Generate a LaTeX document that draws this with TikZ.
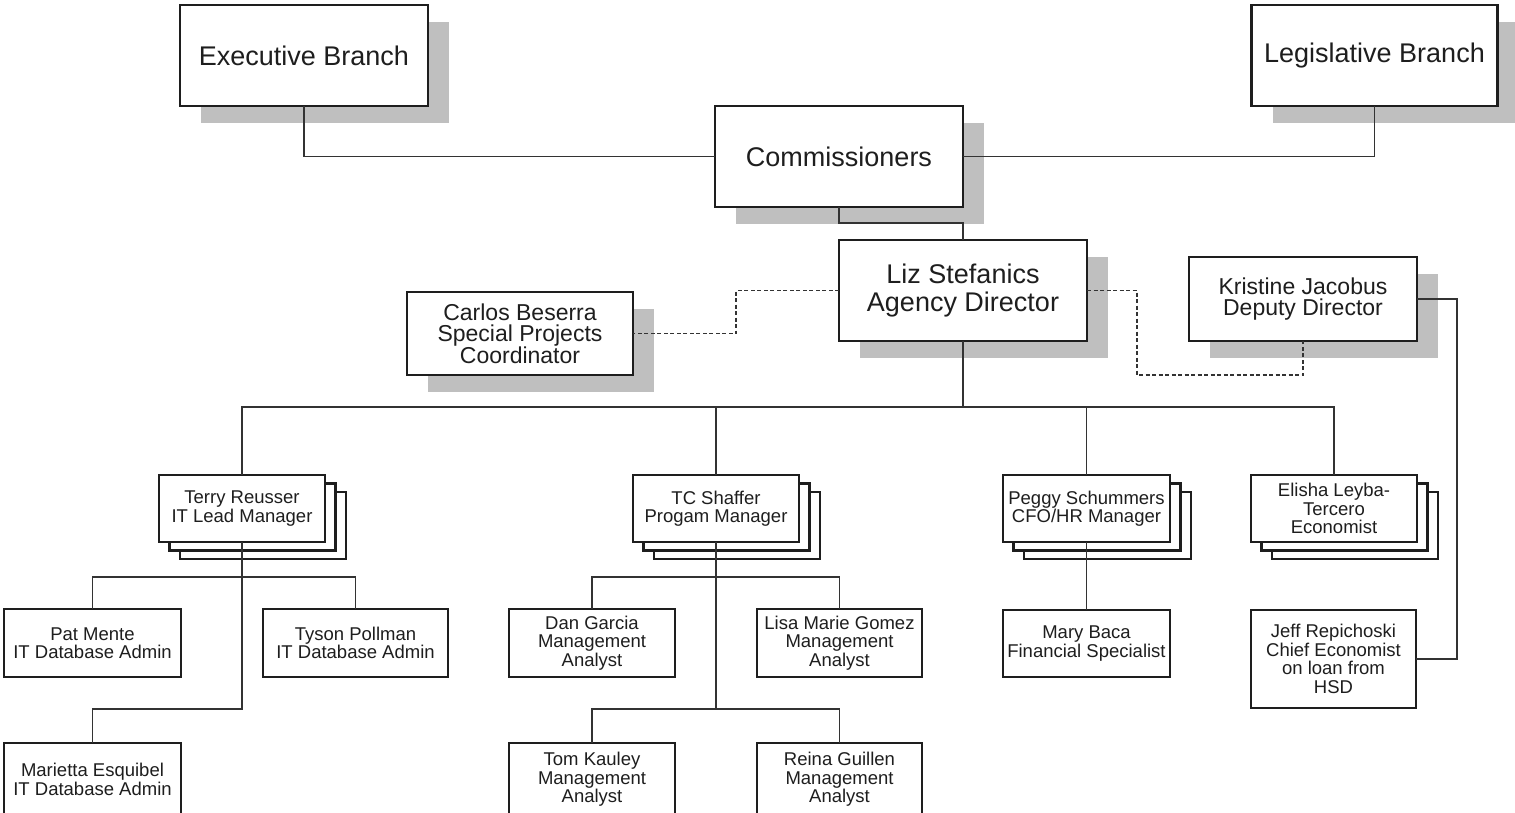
\documentclass[tikz,border=0pt]{standalone}
\usepackage{fontspec}
\setmainfont{Liberation Sans}
\usetikzlibrary{calc,backgrounds}
\definecolor{shadowc}{HTML}{BFBFBF}
\definecolor{inkc}{HTML}{1E1E1E}
\definecolor{linec}{HTML}{333333}
\tikzset{
  basebox/.style={draw=inkc, fill=white, line width=2.4pt, inner sep=0pt, outer sep=0pt, align=center, text=inkc},
  bigbox/.style={basebox, font=\fontsize{27}{28}\selectfont},
  midbox/.style={basebox, font=\fontsize{23}{21.5}\selectfont},
  smallbox/.style={basebox, line width=2.1pt, font=\fontsize{18.5}{18.5}\selectfont},
  conn/.style={draw=linec, line width=1.3pt},
  dconn/.style={conn, dashed, dash pattern=on 4pt off 2.5pt},
  copyc/.style={draw=inkc, fill=white, line width=2.1pt},
}
\newcommand\shadowof[1]{\fill[shadowc] ($(#1.south west)+(21,17)$) rectangle ($(#1.north east)+(21,17)$);}
\newcommand\stackof[1]{%
  \draw[copyc] ($(#1.south west)+(21,17)$) rectangle ($(#1.north east)+(21,17)$);
  \draw[copyc] ($(#1.south west)+(10.5,8.5)$) rectangle ($(#1.north east)+(10.5,8.5)$);}
\begin{document}
\begin{tikzpicture}[x=1pt,y=-1pt]
\useasboundingbox (0,0) rectangle (1515,812);
% top level
\node[bigbox, minimum width=248pt, minimum height=101pt] (exec) at (304,55.5) {Executive Branch};
\node[bigbox, minimum width=246pt, minimum height=101pt] (leg) at (1374.5,55.5) {Legislative Branch};
\node[bigbox, minimum width=248pt, minimum height=101pt] (comm) at (839,156.5) {Commissioners};
\node[bigbox, minimum width=248pt, minimum height=101pt] (liz) at (963,290.5) {Liz Stefanics\\Agency Director};
\node[midbox, minimum width=226pt, minimum height=83pt] (carlos) at (520,333.5) {Carlos Beserra\\Special Projects\\Coordinator};
\node[midbox, minimum width=228pt, minimum height=84pt] (kristine) at (1303,299) {Kristine Jacobus\\Deputy Director};
% managers
\node[smallbox, minimum width=166pt, minimum height=67pt] (terry) at (242,508.5) {Terry Reusser\\IT Lead Manager};
\node[smallbox, minimum width=166pt, minimum height=67pt] (tc) at (716,508.5) {TC Shaffer\\Progam Manager};
\node[smallbox, minimum width=167pt, minimum height=67pt] (peggy) at (1086.5,508.5) {Peggy Schummers\\CFO/HR Manager};
\node[smallbox, minimum width=166pt, minimum height=67pt] (elisha) at (1334,508.5) {Elisha Leyba-\\Tercero\\Economist};
% staff
\node[smallbox, minimum width=177pt, minimum height=68pt] (pat) at (92.5,643) {Pat Mente\\IT Database Admin};
\node[smallbox, minimum width=185pt, minimum height=68pt] (tyson) at (355.5,643) {Tyson Pollman\\IT Database Admin};
\node[smallbox, minimum width=177pt, minimum height=73pt] (marietta) at (92.5,779.5) {Marietta Esquibel\\IT Database Admin};
\node[smallbox, minimum width=166pt, minimum height=68pt] (dan) at (592,643) {Dan Garcia\\Management\\Analyst};
\node[smallbox, minimum width=165pt, minimum height=68pt] (lisa) at (839.5,643) {Lisa Marie Gomez\\Management\\Analyst};
\node[smallbox, minimum width=166pt, minimum height=73pt] (tom) at (592,779.5) {Tom Kauley\\Management\\Analyst};
\node[smallbox, minimum width=165pt, minimum height=73pt] (reina) at (839.5,779.5) {Reina Guillen\\Management\\Analyst};
\node[smallbox, minimum width=167pt, minimum height=67pt] (mary) at (1086.5,643.5) {Mary Baca\\Financial Specialist};
\node[smallbox, minimum width=165pt, minimum height=98pt] (jeff) at (1333.5,659) {Jeff Repichoski\\Chief Economist\\on loan from\\HSD};
% shadows and stacked copies
\begin{scope}[on background layer]
\shadowof{exec}
\shadowof{leg}
\shadowof{comm}
\shadowof{liz}
\shadowof{carlos}
\shadowof{kristine}
\stackof{terry}
\stackof{tc}
\stackof{peggy}
\stackof{elisha}
\end{scope}
% connectors
\coordinate (bus) at (963,407);
\coordinate (sub1) at (0,577);
\coordinate (sub2) at (0,709);
\draw[conn] (exec.south) |- (comm.west);
\draw[conn] (leg.south) |- (comm.east);
\draw[conn] (comm.south) -- ++(0,16) -| (liz.north);
\draw[dconn] (liz.west) -- ++(-103,0) |- (carlos.east);
\draw[dconn] (liz.east) -- ++(50,0) |- ([yshift=-34pt]kristine.south) -- (kristine.south);
\draw[conn] (kristine.east) -- ++(40,0) |- (jeff.east);
\draw[conn] (liz.south) -- (bus);
\draw[conn] (terry.north) |- (elisha.north |- bus) -- (elisha.north);
\draw[conn] (tc.north) -- (tc.north |- bus);
\draw[conn] (peggy.north) -- (peggy.north |- bus);
% Terry subtree
\draw[conn] (terry.south) -- (terry.south |- sub2) -| (marietta.north);
\draw[conn] (pat.north) |- (tyson.north |- sub1) -- (tyson.north);
% TC subtree
\draw[conn] (tc.south) -- (tc.south |- sub2);
\draw[conn] (tom.north) |- (reina.north |- sub2) -- (reina.north);
\draw[conn] (dan.north) |- (lisa.north |- sub1) -- (lisa.north);
% Peggy subtree
\draw[conn] (peggy.south) -- (mary.north);
\end{tikzpicture}
\end{document}
